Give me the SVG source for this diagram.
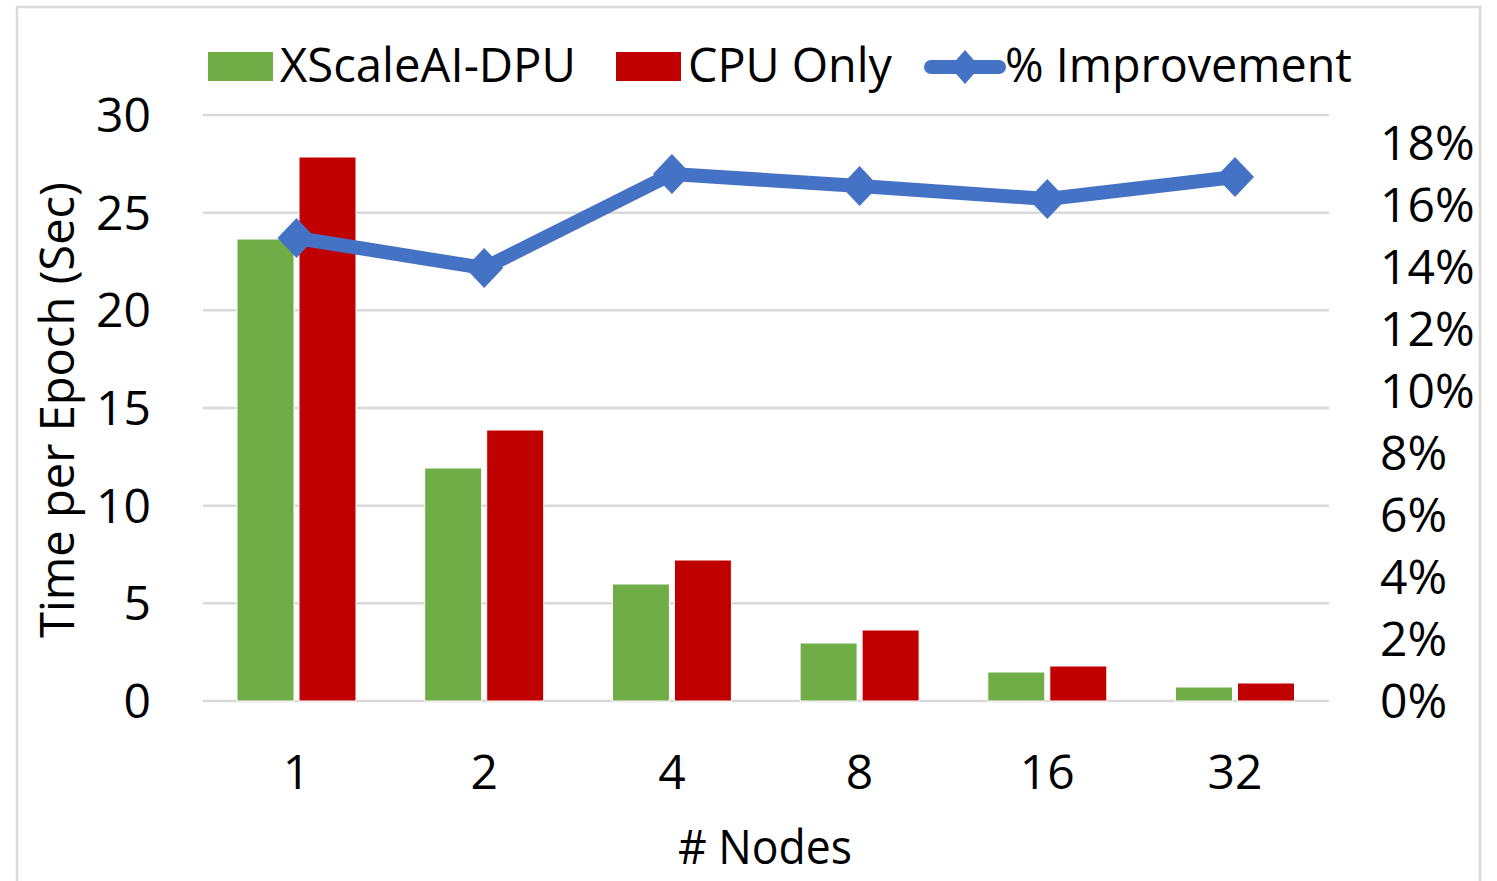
<svg xmlns="http://www.w3.org/2000/svg" width="1497" height="881" viewBox="0 0 1497 881">
<style>
text{font-family:"Open Sans","Liberation Sans",sans-serif;font-size:48px;fill:#000}
.grid{stroke:#d9d9d9;stroke-width:2.5}
.g{fill:#70ad47;stroke:#fff;stroke-width:1}
.r{fill:#c00000;stroke:#fff;stroke-width:1}
.ln{fill:none;stroke:#4472c4;stroke-width:14;stroke-linejoin:round;stroke-linecap:round}
.dm{fill:#4472c4}
.yl{text-anchor:end}
.xl{text-anchor:middle}
</style>
<defs>
<path id="dia" d="M0,-20 L19,0 L0,20 L-19,0 Z" class="dm"/>
</defs>
<rect x="0" y="0" width="1497" height="881" fill="#fff"/>
<rect x="17" y="7" width="1463" height="890" fill="none" stroke="#d9d9d9" stroke-width="2.5"/>
<g id="gridlines">
<line class="grid" x1="203" y1="115" x2="1329" y2="115"/>
<line class="grid" x1="203" y1="212.7" x2="1329" y2="212.7"/>
<line class="grid" x1="203" y1="310.3" x2="1329" y2="310.3"/>
<line class="grid" x1="203" y1="408" x2="1329" y2="408"/>
<line class="grid" x1="203" y1="505.7" x2="1329" y2="505.7"/>
<line class="grid" x1="203" y1="603.3" x2="1329" y2="603.3"/>
<line class="grid" x1="203" y1="701" x2="1329" y2="701"/>
</g>
<g id="y-axis-left">
<text class="yl" x="151" y="132">30</text>
<text class="yl" x="151" y="229.7">25</text>
<text class="yl" x="151" y="327.3">20</text>
<text class="yl" x="151" y="425">15</text>
<text class="yl" x="151" y="522.7">10</text>
<text class="yl" x="151" y="620.3">5</text>
<text class="yl" x="151" y="718">0</text>
<text transform="translate(74,410) rotate(-90)" text-anchor="middle" font-size="50" textLength="456" lengthAdjust="spacingAndGlyphs">Time per Epoch (Sec)</text>
</g>
<g id="y-axis-right">
<text x="1380" y="160">18%</text>
<text x="1380" y="222">16%</text>
<text x="1380" y="284">14%</text>
<text x="1380" y="346">12%</text>
<text x="1380" y="408">10%</text>
<text x="1380" y="470">8%</text>
<text x="1380" y="532">6%</text>
<text x="1380" y="594">4%</text>
<text x="1380" y="656">2%</text>
<text x="1380" y="718">0%</text>
</g>
<g id="x-axis">
<text class="xl" x="296.5" y="789">1</text>
<text class="xl" x="484.2" y="789">2</text>
<text class="xl" x="671.9" y="789">4</text>
<text class="xl" x="859.6" y="789">8</text>
<text class="xl" x="1047.3" y="789">16</text>
<text class="xl" x="1235" y="789">32</text>
<text class="xl" x="765" y="864" textLength="174" lengthAdjust="spacingAndGlyphs">#&#160;Nodes</text>
</g>
<g id="bars-xscaleai">
<rect class="g" x="237" y="239" width="57" height="462"/>
<rect class="g" x="424.7" y="468" width="57" height="233"/>
<rect class="g" x="612.4" y="584" width="57" height="117"/>
<rect class="g" x="800.1" y="643" width="57" height="58"/>
<rect class="g" x="987.8" y="672" width="57" height="29"/>
<rect class="g" x="1175.5" y="687" width="57" height="14"/>
</g>
<g id="bars-cpu">
<rect class="r" x="299" y="157" width="57" height="544"/>
<rect class="r" x="486.7" y="430" width="57" height="271"/>
<rect class="r" x="674.4" y="560" width="57" height="141"/>
<rect class="r" x="862.1" y="630" width="57" height="71"/>
<rect class="r" x="1049.8" y="666" width="57" height="35"/>
<rect class="r" x="1237.5" y="683" width="57" height="18"/>
</g>
<g id="connectors">
<polyline class="ln" points="296.5,238 484.2,268 671.9,174 859.6,186 1047.3,199 1235,177"/>
</g>
<g id="markers">
<use href="#dia" x="296.5" y="238"/>
<use href="#dia" x="484.2" y="268"/>
<use href="#dia" x="671.9" y="174"/>
<use href="#dia" x="859.6" y="186"/>
<use href="#dia" x="1047.3" y="199"/>
<use href="#dia" x="1235" y="177"/>
</g>
<g id="legend">
<rect x="208" y="52" width="65" height="29" fill="#70ad47"/>
<text x="280" y="82" textLength="296" lengthAdjust="spacingAndGlyphs">XScaleAI-DPU</text>
<rect x="616" y="52" width="65" height="29" fill="#c00000"/>
<text x="688" y="82" textLength="204" lengthAdjust="spacingAndGlyphs">CPU Only</text>
<line class="ln" x1="931" y1="67" x2="999" y2="67"/>
<path class="dm" d="M965,50 L980,67 L965,84 L950,67 Z"/>
<text x="1005" y="82" textLength="347" lengthAdjust="spacingAndGlyphs">% Improvement</text>
</g>
</svg>
